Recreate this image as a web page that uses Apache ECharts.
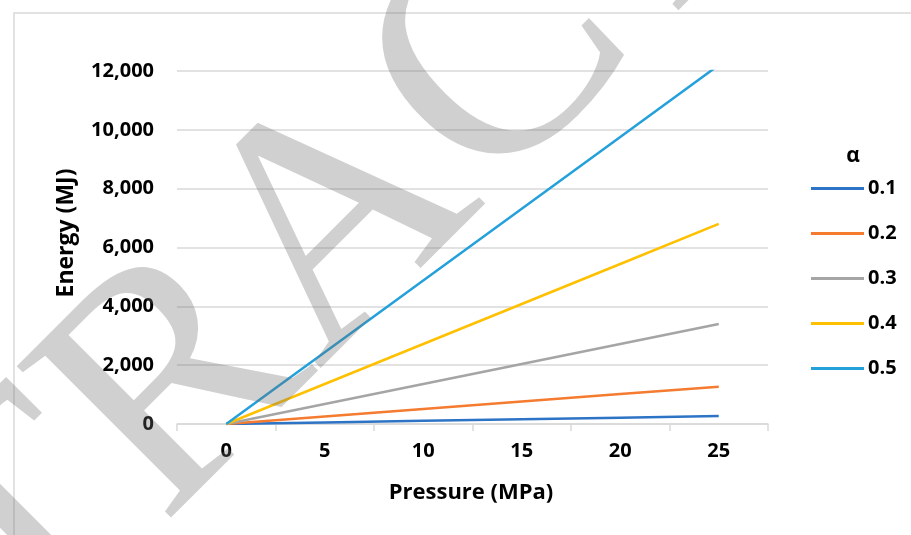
<!DOCTYPE html>
<html>
<head>
<meta charset="utf-8">
<script src="https://cdn.jsdelivr.net/npm/echarts@6/dist/echarts.min.js"></script>
<style>
html,body{margin:0;padding:0;background:#fff;}
#chart{width:911px;height:535px;}
</style>
</head>
<body>
<div id="chart"></div>
<script>
// ---- data ----
const pressure = ['0', '5', '10', '15', '20', '25'];
const seriesNames = ['0.1', '0.2', '0.3', '0.4', '0.5'];
const alpha01 = [0, 54, 108, 162, 216, 270];
const alpha02 = [0, 254, 508, 762, 1016, 1270];
const alpha03 = [0, 680, 1360, 2040, 2720, 3400];
const alpha04 = [0, 1360, 2720, 4080, 5440, 6800];
const alpha05 = [0, 2440, 4880, 7320, 9760, 12200];
const yTicks = [0, 2000, 4000, 6000, 8000, 10000, 12000];

const values = [alpha01, alpha02, alpha03, alpha04, alpha05];
const colors = ['#2E74C6', '#F47B30', '#A5A5A5', '#FFC000', '#24A0DB'];
const FONT = '"Open Sans"';

const chart = echarts.init(document.getElementById('chart'));
const option = {
  animation: false,
  backgroundColor: '#fff',
  grid: {left: 177, right: 143, top: 71, bottom: 111},
  xAxis: {
    type: 'category',
    data: pressure,
    boundaryGap: true,
    axisLine: {lineStyle: {color: '#d9d9d9', width: 1.5}},
    axisTick: {show: true, length: 7, lineStyle: {color: '#d9d9d9', width: 1.5}},
    axisLabel: {color: '#000', fontFamily: FONT, fontWeight: 'bold', fontSize: 20, margin: 17},
    splitLine: {show: false}
  },
  yAxis: {
    type: 'value',
    min: yTicks[0],
    max: yTicks[yTicks.length - 1],
    interval: 2000,
    axisLine: {show: false},
    axisTick: {show: false},
    axisLabel: {
      color: '#000', fontFamily: FONT, fontWeight: 'bold', fontSize: 20, margin: 23,
      formatter: v => v.toLocaleString('en-US')
    },
    splitLine: {lineStyle: {color: '#d9d9d9', width: 1.5}}
  },
  legend: {
    orient: 'vertical',
    left: 806,
    top: 170,
    icon: 'rect',
    itemWidth: 53,
    itemHeight: 3,
    itemGap: 18,
    data: seriesNames,
    textStyle: {color: '#000', fontFamily: FONT, fontWeight: 'bold', fontSize: 20, lineHeight: 27, padding: [0, 0, 0, -1]}
  },
  series: seriesNames.map((n, i) => ({
    name: n,
    type: 'line',
    data: values[i],
    symbol: 'none',
    lineStyle: {color: colors[i], width: 2.5},
    itemStyle: {color: colors[i]},
    z: 2 + i
  })),
  graphic: [
    {type: 'rect', shape: {x: 14, y: 13, width: 1000, height: 600}, style: {fill: 'none', stroke: '#d9d9d9', lineWidth: 1.5}, z: 0, silent: true},
    {type: 'text', x: 66, y: 233, rotation: Math.PI / 2,
      style: {text: 'Energy (MJ)', fill: '#000', font: 'bold 23px ' + FONT, textAlign: 'center', textVerticalAlign: 'middle'}, z: 10},
    {type: 'text', x: 471, y: 493,
      style: {text: 'Pressure (MPa)', fill: '#000', font: 'bold 22px ' + FONT, textAlign: 'center', textVerticalAlign: 'middle'}, z: 10},
    {type: 'text', x: 853, y: 156,
      style: {text: 'α', fill: '#000', font: 'bold 21px ' + FONT, textAlign: 'center', textVerticalAlign: 'middle'}, z: 10},
    {type: 'text', x: -495, y: 1061, rotation: Math.PI / 4,
      style: {text: 'ABSTRACT', fill: 'rgba(110,110,110,0.32)', font: '330px "Liberation Serif"', textAlign: 'left', textVerticalAlign: 'middle'},
      z: 100, silent: true}
  ]
};
chart.setOption(option);
</script>
</body>
</html>
